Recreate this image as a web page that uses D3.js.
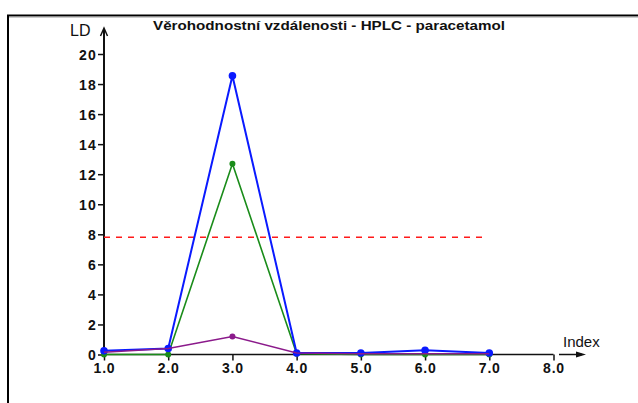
<!DOCTYPE html>
<html>
<head>
<meta charset="utf-8">
<script src="https://cdn.jsdelivr.net/npm/d3@7"></script>
<style>
  html, body { margin: 0; padding: 0; background: #fff; }
  svg { display: block; }
  text { font-family: "Liberation Sans", Arial, sans-serif; fill: #111; }
</style>
</head>
<body>
<svg id="chart" width="638" height="403"></svg>
<script>
// Index values on the x axis
const indexValues = [1, 2, 3, 4, 5, 6, 7];
// Likelihood distances (LD) for each series
const blueSeries = [0.25, 0.4, 18.55, 0.1, 0.1, 0.28, 0.1];
const greenSeries = [0.0, 0.0, 12.7, 0.05, 0.0, 0.0, 0.0];
const purpleSeries = [0.15, 0.4, 1.2, 0.1, 0.05, 0.05, 0.05];
// Critical value drawn as a dashed red line
const criticalValue = 7.8;
const criticalRange = [1, 7];
// Axis ticks
const xTicks = [1, 2, 3, 4, 5, 6, 7, 8];
const yTicks = [0, 2, 4, 6, 8, 10, 12, 14, 16, 18, 20];
const titleText = "Věrohodnostní vzdálenosti - HPLC - paracetamol";

const svg = d3.select("#chart");

// outer frame
svg.append("line").attr("x1", 7).attr("x2", 638).attr("y1", 15.5).attr("y2", 15.5)
  .attr("stroke", "#000").attr("stroke-width", 2);
svg.append("line").attr("x1", 7).attr("x2", 638).attr("y1", 17).attr("y2", 17)
  .attr("stroke", "#999").attr("stroke-width", 1);
svg.append("line").attr("x1", 8).attr("x2", 8).attr("y1", 15).attr("y2", 403)
  .attr("stroke", "#000").attr("stroke-width", 2);

const x = d3.scaleLinear().domain([1, 8]).range([104, 553.5]);
const y = d3.scaleLinear().domain([0, 20]).range([354.5, 54]);

// y axis
const yAxis = d3.axisLeft(y).tickValues(yTicks).tickSize(6).tickPadding(1).tickFormat(d3.format("d"));
const gy = svg.append("g").attr("transform", `translate(${x(1)},0)`).call(yAxis);
gy.select(".domain").remove();
gy.selectAll(".tick line").attr("stroke", "#111").attr("stroke-width", 1.5);
gy.selectAll(".tick text").attr("font-size", 14).attr("font-weight", "bold").attr("fill", "#222")
  .attr("letter-spacing", "1.2px").attr("dy", "0.36em");
svg.append("line").attr("x1", x(1)).attr("x2", x(1)).attr("y1", y(0)).attr("y2", 30)
  .attr("stroke", "#111").attr("stroke-width", 2);
svg.append("path").attr("d", `M${x(1) - 3.5},36 L${x(1)},28 L${x(1) + 3.5},36`)
  .attr("fill", "none").attr("stroke", "#111").attr("stroke-width", 1.5);

// x axis
const xAxis = d3.axisBottom(x).tickValues(xTicks).tickSize(6).tickPadding(3).tickFormat(d3.format(".1f"));
const gx = svg.append("g").attr("transform", `translate(0,${y(0)})`).call(xAxis);
gx.select(".domain").remove();
gx.selectAll(".tick line").attr("stroke", "#111").attr("stroke-width", 1.5);
gx.selectAll(".tick text").attr("font-size", 14).attr("font-weight", "bold").attr("fill", "#222")
  .attr("letter-spacing", "0.8px");
svg.append("line").attr("x1", x(1)).attr("x2", x(8)).attr("y1", y(0)).attr("y2", y(0))
  .attr("stroke", "#111").attr("stroke-width", 1.5);
// separate arrow after the last tick
svg.append("line").attr("x1", 559).attr("x2", 582).attr("y1", y(0)).attr("y2", y(0))
  .attr("stroke", "#111").attr("stroke-width", 1.5);
svg.append("path").attr("d", `M576,${y(0) - 3} L586,${y(0)} L576,${y(0) + 3} Z`).attr("fill", "#111");

// axis names
svg.append("text").attr("x", 70).attr("y", 36).attr("font-size", 16).text("LD");
svg.append("text").attr("x", 563).attr("y", 347).attr("font-size", 15).text("Index");

// title
svg.append("text").attr("x", 153).attr("y", 30).attr("font-size", 12).attr("font-weight", "bold")
  .attr("textLength", 352).attr("lengthAdjust", "spacingAndGlyphs").text(titleText);

// critical line
svg.append("line")
  .attr("x1", x(criticalRange[0])).attr("x2", x(criticalRange[1]) - 6)
  .attr("y1", y(criticalValue)).attr("y2", y(criticalValue))
  .attr("stroke", "#ff1a1a").attr("stroke-width", 1.5).attr("stroke-dasharray", "6,6");

const line = d3.line().x((d, i) => x(indexValues[i])).y(d => y(d));

function drawSeries(values, color, width, r) {
  svg.append("path").datum(values).attr("d", line)
    .attr("fill", "none").attr("stroke", color).attr("stroke-width", width);
  svg.append("g").selectAll("circle").data(values).join("circle")
    .attr("cx", (d, i) => x(indexValues[i])).attr("cy", d => y(d)).attr("r", r)
    .attr("fill", color);
}

drawSeries(greenSeries, "#1a8c1a", 1.6, 3);
drawSeries(blueSeries, "#0a1aff", 2, 3.8);
// purple series sits on top only where it is visible
svg.append("path").datum(purpleSeries).attr("d", line)
  .attr("fill", "none").attr("stroke", "#8b1a8b").attr("stroke-width", 1.5);
svg.append("circle").attr("cx", x(indexValues[2])).attr("cy", y(purpleSeries[2])).attr("r", 3)
  .attr("fill", "#8b1a8b");
</script>
</body>
</html>
